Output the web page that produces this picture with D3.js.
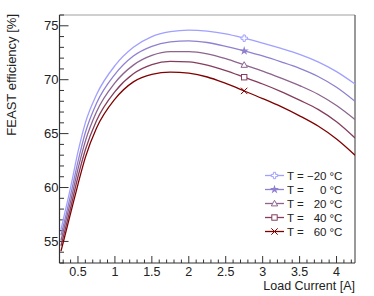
<!DOCTYPE html>
<html>
<head>
<meta charset="utf-8">
<script src="https://cdn.jsdelivr.net/npm/d3@7"></script>
<style>
  body { margin: 0; background: #fff; }
  svg { display: block; font-family: "Liberation Sans", Arial, sans-serif; }
</style>
</head>
<body>
<div id="chart"></div>
<script>
// chart size
const width = 374;
const height = 296;
const margin = {top: 15, right: 19, bottom: 33, left: 59.5};

// data
const loadCurrent = [0.27, 0.3, 0.4, 0.5, 0.6, 0.75, 1.0, 1.25, 1.5, 1.75, 2.0, 2.25, 2.5, 2.75, 3.0, 3.25, 3.5, 3.75, 4.0, 4.25];
const effM20 = [56.1, 57.0, 60.0, 63.3, 66.0, 68.6, 71.3, 73.0, 74.0, 74.45, 74.6, 74.5, 74.25, 73.85, 73.4, 72.9, 72.35, 71.65, 70.75, 69.6];
const eff0   = [55.6, 56.4, 59.3, 62.4, 65.1, 67.8, 70.5, 72.2, 73.1, 73.5, 73.6, 73.45, 73.1, 72.67, 72.2, 71.65, 71.05, 70.3, 69.3, 68.0];
const eff20  = [55.1, 55.9, 58.7, 61.7, 64.3, 67.0, 69.7, 71.35, 72.25, 72.6, 72.6, 72.4, 71.95, 71.37, 70.8, 70.15, 69.45, 68.65, 67.6, 66.3];
const eff40  = [54.6, 55.4, 58.1, 61.0, 63.5, 66.2, 68.9, 70.55, 71.4, 71.7, 71.65, 71.35, 70.85, 70.23, 69.6, 68.9, 68.1, 67.25, 66.1, 64.6];
const eff60  = [54.1, 54.9, 57.6, 60.3, 62.8, 65.5, 68.2, 69.8, 70.5, 70.7, 70.6, 70.25, 69.65, 68.96, 68.25, 67.5, 66.65, 65.7, 64.5, 63.0];
const temps = ["\u221220", "0", "20", "40", "60"];
const colors = ["#a0a0ff", "#9080d0", "#8c648e", "#843d5c", "#800000"];
const markerTypes = ["cross", "star", "triangle", "square", "x"];
const markerCurrent = 2.75;

const series = [effM20, eff0, eff20, eff40, eff60];

const svg = d3.select("#chart").append("svg")
    .attr("width", width)
    .attr("height", height);

const x = d3.scaleLinear().domain([0.25, 4.25]).range([margin.left, width - margin.right]);
const y = d3.scaleLinear().domain([53, 76]).range([height - margin.bottom, margin.top]);

const x0 = x.range()[0], x1 = x.range()[1];
const y0 = y.range()[0], y1 = y.range()[1];

// frame (top and right in grey)
svg.append("line").attr("x1", x0).attr("x2", x1).attr("y1", y1).attr("y2", y1)
    .attr("stroke", "#a0a0a0").attr("stroke-width", 1.2);
svg.append("line").attr("x1", x1).attr("x2", x1).attr("y1", y1).attr("y2", y0)
    .attr("stroke", "#555").attr("stroke-width", 1.2);

///
/// AXES
///

const yMajor = [55, 60, 65, 70, 75];
const yMinor = d3.range(53, 77, 1).filter(v => yMajor.indexOf(v) < 0);
const xMajor = [0.5, 1, 1.5, 2, 2.5, 3, 3.5, 4];
const xMinor = d3.range(3, 43, 1).map(v => v / 10).filter(v => v % 0.5 > 0.01 && v % 0.5 < 0.49);

const axisColor = "#333";

const ticks = svg.append("g").attr("stroke", axisColor).attr("stroke-width", 1);
ticks.selectAll(".ymaj").data(yMajor).join("line")
    .attr("x1", x0).attr("x2", x0 + 9)
    .attr("y1", d => y(d)).attr("y2", d => y(d));
ticks.selectAll(".ymin").data(yMinor).join("line")
    .attr("x1", x0).attr("x2", x0 + 4.5)
    .attr("y1", d => y(d)).attr("y2", d => y(d));
ticks.selectAll(".xmaj").data(xMajor).join("line")
    .attr("x1", d => x(d)).attr("x2", d => x(d))
    .attr("y1", y0).attr("y2", y0 - 7);
ticks.selectAll(".xmin").data(xMinor).join("line")
    .attr("x1", d => x(d)).attr("x2", d => x(d))
    .attr("y1", y0).attr("y2", y0 - 3.5);

// axis lines
svg.append("line").attr("x1", x0).attr("x2", x0).attr("y1", y1).attr("y2", y0)
    .attr("stroke", axisColor).attr("stroke-width", 1.2);
svg.append("line").attr("x1", x0).attr("x2", x1).attr("y1", y0).attr("y2", y0)
    .attr("stroke", axisColor).attr("stroke-width", 1.2);

// tick labels
svg.append("g").selectAll("text").data(yMajor).join("text")
    .attr("x", x0 - 1)
    .attr("y", d => y(d) + 4.6)
    .attr("text-anchor", "end")
    .attr("font-size", 13)
    .attr("fill", "#222")
    .text(d => d);

svg.append("g").selectAll("text").data(xMajor).join("text")
    .attr("x", d => x(d))
    .attr("y", y0 + 12.8)
    .attr("text-anchor", "middle")
    .attr("font-size", 12.5)
    .attr("fill", "#222")
    .text(d => d);

// axis titles
svg.append("text")
    .attr("x", x1)
    .attr("y", 289.5)
    .attr("text-anchor", "end")
    .attr("font-size", 12.5)
    .attr("fill", "#222")
    .text("Load Current [A]");

svg.append("text")
    .attr("transform", `translate(15.5, ${y1 - 1}) rotate(-90)`)
    .attr("text-anchor", "end")
    .attr("font-size", 13)
    .attr("fill", "#222")
    .text("FEAST efficiency [%]");

///
/// CURVES
///

const line = d3.line()
    .x(d => x(d[0]))
    .y(d => y(d[1]))
    .curve(d3.curveMonotoneX);

svg.append("defs").append("clipPath").attr("id", "clip")
    .append("rect").attr("x", x0).attr("y", y1).attr("width", x1 - x0).attr("height", y0 - y1);

const curves = svg.append("g").attr("clip-path", "url(#clip)");
series.forEach((vals, i) => {
    curves.append("path")
        .datum(loadCurrent.map((c, k) => [c, vals[k]]))
        .attr("fill", "none")
        .attr("stroke", colors[i])
        .attr("stroke-width", 1.3)
        .attr("d", line);
});

// marker shapes
function drawMarker(g, type, cx, cy, color) {
    const s = 3.2;
    if (type === "cross") {
        const a = 1.1;
        g.append("path")
            .attr("d", `M${cx - a},${cy - s}H${cx + a}V${cy - a}H${cx + s}V${cy + a}H${cx + a}V${cy + s}H${cx - a}V${cy + a}H${cx - s}V${cy - a}H${cx - a}Z`)
            .attr("fill", "white").attr("stroke", color).attr("stroke-width", 1);
    } else if (type === "star") {
        g.append("path")
            .attr("d", d3.symbol(d3.symbolStar, 26)())
            .attr("transform", `translate(${cx},${cy})`)
            .attr("fill", color);
    } else if (type === "triangle") {
        g.append("path")
            .attr("d", `M${cx},${cy - s}L${cx + s},${cy + s * 0.75}L${cx - s},${cy + s * 0.75}Z`)
            .attr("fill", "white").attr("stroke", color).attr("stroke-width", 1);
    } else if (type === "square") {
        g.append("rect")
            .attr("x", cx - s + 0.5).attr("y", cy - s + 0.5)
            .attr("width", 2 * s - 1).attr("height", 2 * s - 1)
            .attr("fill", "white").attr("stroke", color).attr("stroke-width", 1);
    } else {
        g.append("path")
            .attr("d", `M${cx - s},${cy - s}L${cx + s},${cy + s}M${cx - s},${cy + s}L${cx + s},${cy - s}`)
            .attr("stroke", color).attr("stroke-width", 1);
    }
}

const markers = svg.append("g");
const mIdx = loadCurrent.indexOf(markerCurrent);
series.forEach((vals, i) => {
    drawMarker(markers, markerTypes[i], x(markerCurrent), y(vals[mIdx]), colors[i]);
});

///
/// LEGEND
///

const legend = svg.append("g").attr("font-size", 11.5).attr("fill", "#222");
temps.forEach((t, i) => {
    const ly = 175.5 + i * 14;
    legend.append("line")
        .attr("x1", 265).attr("x2", 284)
        .attr("y1", ly).attr("y2", ly)
        .attr("stroke", colors[i]).attr("stroke-width", 1.3);
    drawMarker(legend, markerTypes[i], 274.5, ly, colors[i]);
    legend.append("text").attr("x", 287).attr("y", ly + 4).text("T =");
    legend.append("text").attr("x", 326.5).attr("y", ly + 4).attr("text-anchor", "end").text(t);
    legend.append("text").attr("x", 329.5).attr("y", ly + 4).text("\u00b0C");
});
</script>
</body>
</html>
